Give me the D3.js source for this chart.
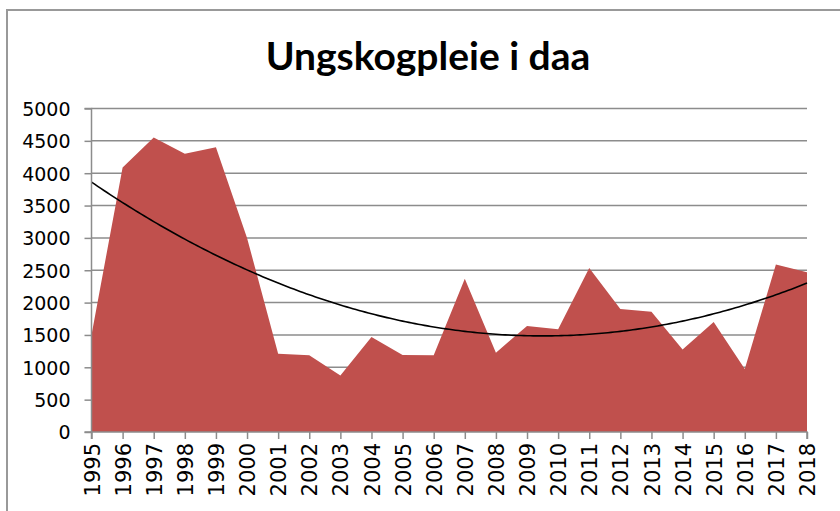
<!DOCTYPE html>
<html>
<head>
<meta charset="utf-8">
<script src="https://cdn.jsdelivr.net/npm/d3@7"></script>
<style>
  body { margin: 0; background: #fff; }
  svg { display: block; }
</style>
</head>
<body>
<div id="chart"></div>
<script>
var title = "Ungskogpleie i daa";
var years = ["1995", "1996", "1997", "1998", "1999", "2000", "2001", "2002", "2003", "2004", "2005", "2006",
             "2007", "2008", "2009", "2010", "2011", "2012", "2013", "2014", "2015", "2016", "2017", "2018"];
var values = [1500, 4090, 4550, 4300, 4400, 3000, 1210, 1185, 875, 1470, 1190, 1185,
              2370, 1225, 1640, 1590, 2535, 1900, 1860, 1275, 1700, 975, 2590, 2470];
var yTicks = [0, 500, 1000, 1500, 2000, 2500, 3000, 3500, 4000, 4500, 5000];

var W = 840, H = 511;
var margin = {top: 108.5, right: 33, bottom: 79, left: 91.5};
var width = W - margin.left - margin.right,
    height = H - margin.top - margin.bottom;

var svg = d3.select("#chart").append("svg")
    .attr("width", W)
    .attr("height", H);

// chart frame
svg.append("path")
    .attr("d", "M7,520 L7,10 L850,10")
    .attr("fill", "none")
    .attr("stroke", "#999")
    .attr("stroke-width", 2);

svg.append("text")
    .attr("x", 428)
    .attr("y", 70)
    .attr("text-anchor", "middle")
    .style("font-family", "Lato, 'Open Sans', sans-serif")
    .style("font-weight", "bold")
    .style("font-size", "39px")
    .text(title);

var g = svg.append("g")
    .attr("transform", "translate(" + margin.left + "," + margin.top + ")");

var x = d3.scalePoint()
    .domain(years)
    .range([0, width]);

var y = d3.scaleLinear()
    .domain([0, 5000])
    .range([height, 0]);

// gridlines
g.selectAll(".grid")
    .data(yTicks.slice(1))
    .enter().append("line")
    .attr("class", "grid")
    .attr("x1", 0)
    .attr("x2", width)
    .attr("y1", function(d) { return y(d); })
    .attr("y2", function(d) { return y(d); })
    .attr("stroke", "#8c8c8c")
    .attr("stroke-width", 1.5);

var area = d3.area()
    .x(function(d, i) { return x(years[i]); })
    .y0(height)
    .y1(function(d) { return y(d); });

g.append("path")
    .datum(values)
    .attr("fill", "#c0504d")
    .attr("d", area);

// polynomial (order 2) trendline, least squares on the data
var n = values.length, s = [0, 0, 0, 0, 0], t = [0, 0, 0];
values.forEach(function(v, i) {
  var xi = i + 1;
  for (var k = 0; k <= 4; k++) s[k] += Math.pow(xi, k);
  for (var k = 0; k <= 2; k++) t[k] += v * Math.pow(xi, k);
});
function solve(A, b) {
  var m = b.length;
  for (var c = 0; c < m; c++) {
    for (var r = c + 1; r < m; r++) {
      var f = A[r][c] / A[c][c];
      for (var k = c; k < m; k++) A[r][k] -= f * A[c][k];
      b[r] -= f * b[c];
    }
  }
  var out = new Array(m);
  for (var r = m - 1; r >= 0; r--) {
    var sum = b[r];
    for (var k = r + 1; k < m; k++) sum -= A[r][k] * out[k];
    out[r] = sum / A[r][r];
  }
  return out;
}
var coef = solve([[s[0], s[1], s[2]], [s[1], s[2], s[3]], [s[2], s[3], s[4]]], t.slice());

var xStep = d3.scaleLinear().domain([1, n]).range([0, width]);
var trendPts = d3.range(1, n + 0.001, 0.1).map(function(xi) {
  return [xStep(xi), y(coef[0] + coef[1] * xi + coef[2] * xi * xi)];
});
g.append("path")
    .datum(trendPts)
    .attr("fill", "none")
    .attr("stroke", "#000")
    .attr("stroke-width", 1.6)
    .attr("d", d3.line());

// axes
var yAxis = g.append("g")
    .call(d3.axisLeft(y).tickValues(yTicks).tickFormat(d3.format("d")).tickSize(7).tickPadding(14));
var xAxis = g.append("g")
    .attr("transform", "translate(0," + height + ")")
    .call(d3.axisBottom(x).tickSize(7).tickPadding(4));

[yAxis, xAxis].forEach(function(ax) {
  ax.select(".domain").attr("stroke", "#8c8c8c").attr("stroke-width", 1.5);
  ax.selectAll(".tick line").attr("stroke", "#8c8c8c").attr("stroke-width", 1.5);
  ax.selectAll("text")
      .style("font-family", "'DejaVu Sans', sans-serif")
      .style("font-size", "19px")
      .attr("fill", "#000");
});
yAxis.select(".domain").attr("d", "M-7," + height + "H0V0H-7");
yAxis.selectAll(".tick text").attr("dy", "0.36em");

xAxis.select(".domain").attr("d", "M0," + 7 + "V0H" + width + "V7");
xAxis.selectAll(".tick text")
    .style("font-size", "21px")
    .attr("transform", "rotate(-90)")
    .attr("text-anchor", "end")
    .attr("x", -11)
    .attr("y", 0)
    .attr("dy", "0.36em");
</script>
</body>
</html>
